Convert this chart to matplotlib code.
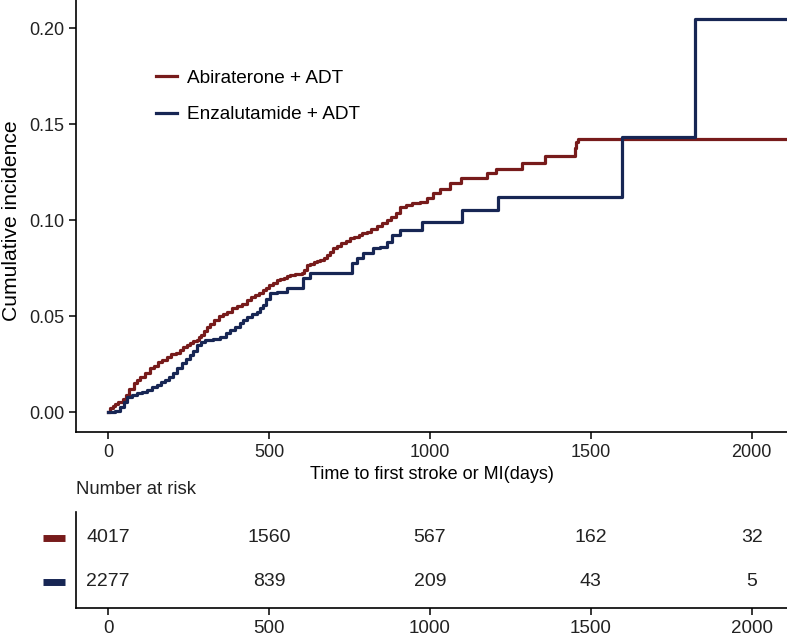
import numpy as np
import matplotlib.pyplot as plt
import matplotlib.transforms as mtransforms

plt.rcParams['font.family'] = ['Liberation Sans', 'DejaVu Sans']

# courbes d'incidence cumulée (points de saut)
t_abi = [0, 6, 14, 22, 30, 37, 46, 55, 66, 79, 90, 100, 115, 130, 142, 155, 168, 182,
         196, 210, 222, 234, 245, 255, 265, 275, 283, 290, 298, 306, 318, 330, 345,
         357, 369, 385, 400, 415, 431, 443, 455, 468, 482, 491, 500, 512, 524, 535,
         545, 555, 565, 580, 601, 610, 617, 628, 640, 650, 658, 670, 680, 690, 700,
         712, 725, 738, 752, 765, 780, 790, 803, 818, 835, 850, 866, 880, 896, 907,
         925, 943, 969, 990, 1010, 1031, 1062, 1098, 1176, 1207, 1285, 1357, 1450,
         1455, 1461, 2110]
v_abi = [0, 0.002, 0.003, 0.004, 0.005, 0.0054, 0.007, 0.009, 0.012, 0.0149, 0.0165,
         0.018, 0.0205, 0.0228, 0.024, 0.026, 0.0272, 0.0288, 0.030, 0.031, 0.0325,
         0.034, 0.035, 0.036, 0.0368, 0.0375, 0.039, 0.040, 0.042, 0.0444, 0.046,
         0.048, 0.050, 0.051, 0.0522, 0.054, 0.055, 0.0565, 0.0583, 0.060, 0.061,
         0.0622, 0.0635, 0.0645, 0.066, 0.0672, 0.0688, 0.0695, 0.070, 0.0708,
         0.0714, 0.0718, 0.0722, 0.074, 0.0766, 0.0772, 0.078, 0.0786, 0.0792,
         0.080, 0.082, 0.0836, 0.0852, 0.0866, 0.088, 0.089, 0.0904, 0.0912, 0.092,
         0.093, 0.0939, 0.0952, 0.097, 0.0985, 0.100, 0.1015, 0.1035, 0.107, 0.1078,
         0.1087, 0.1095, 0.1113, 0.1142, 0.116, 0.1194, 0.1217, 0.1243, 0.1264,
         0.1295, 0.1333, 0.1373, 0.1408, 0.1422, 0.1422]

t_enz = [0, 22, 37, 48, 58, 75, 89, 105, 120, 135, 151, 165, 177, 190, 203, 215, 229,
         242, 255, 265, 275, 288, 301, 325, 348, 365, 379, 395, 410, 420, 431, 448,
         462, 472, 482, 492, 503, 524, 555, 607, 627, 757, 772, 793, 824, 845, 866,
         881, 907, 977, 1101, 1212, 1598, 1823, 2110]
v_enz = [0, 0.0007, 0.0028, 0.005, 0.008, 0.009, 0.0097, 0.0105, 0.0115, 0.013,
         0.014, 0.0155, 0.0167, 0.018, 0.0201, 0.023, 0.0253, 0.0275, 0.0297, 0.032,
         0.0349, 0.0365, 0.0375, 0.0382, 0.0392, 0.041, 0.0427, 0.0445, 0.0462,
         0.048, 0.0496, 0.051, 0.0522, 0.054, 0.0557, 0.059, 0.0618, 0.0627, 0.0644,
         0.0696, 0.0722, 0.0774, 0.080, 0.0826, 0.0852, 0.086, 0.0887, 0.0922,
         0.0948, 0.0991, 0.1052, 0.1122, 0.143, 0.2045, 0.2045]

groupes = ["Abiraterone + ADT", "Enzalutamide + ADT"]
couleurs = ["#771b1b", "#172654"]

# table des effectifs à risque
t_risk = [0, 500, 1000, 1500, 2000]
n_abi = [4017, 1560, 567, 162, 32]
n_enz = [2277, 839, 209, 43, 5]

fig = plt.figure(figsize=(7.87, 6.37), dpi=100)
ax = fig.add_axes([76/787, 1 - 432/637, 1 - 76/787, 432/637])

ax.step(t_abi, v_abi, where='post', color=couleurs[0], lw=2.3, label=groupes[0])
ax.step(t_enz, v_enz, where='post', color=couleurs[1], lw=2.3, label=groupes[1])

ax.set_xlim(-100, 2110)
ax.set_ylim(-0.0104, 0.2146)
ax.set_xticks(t_risk)
ax.set_yticks([0, 0.05, 0.10, 0.15, 0.20])
ax.set_yticklabels(["0.00", "0.05", "0.10", "0.15", "0.20"])
ax.tick_params(labelsize=13, length=5, width=1.1, color='black', labelcolor='#222222')
for s in ['top', 'right']:
    ax.spines[s].set_visible(False)
for s in ['left', 'bottom']:
    ax.spines[s].set_linewidth(1.2)
ax.set_ylabel("Cumulative incidence", fontsize=15.2, va='center')
ax.yaxis.set_label_coords(-64/711, 0.49)
ax.set_xlabel("Time to first stroke or MI(days)", fontsize=13, labelpad=4)

ax.legend(loc='upper left', bbox_to_anchor=(146/787, 1 - 60/637),
          bbox_transform=fig.transFigure, frameon=False, fontsize=13.7,
          handlelength=1.15, handletextpad=0.5, labelspacing=1.0, borderpad=0)

# table des effectifs
axt = fig.add_axes([76/787, 1 - 608/637, 1 - 76/787, 96/637])
axt.set_xlim(-100, 2110)
axt.set_ylim(0.41, 2.58)
for i, n in enumerate(n_abi):
    axt.text(t_risk[i], 2, str(n), ha='center', va='center', fontsize=14, color='#222222')
for i, n in enumerate(n_enz):
    axt.text(t_risk[i], 1, str(n), ha='center', va='center', fontsize=14, color='#222222')
trans = mtransforms.blended_transform_factory(axt.transAxes, axt.transData)
axt.plot([-0.046, -0.0155], [2, 2], transform=trans, color=couleurs[0], lw=5,
         solid_capstyle='butt', clip_on=False)
axt.plot([-0.046, -0.0155], [1, 1], transform=trans, color=couleurs[1], lw=5,
         solid_capstyle='butt', clip_on=False)
axt.set_xticks(t_risk)
axt.set_yticks([])
axt.tick_params(labelsize=13.5, length=5, width=1.1, labelcolor='#222222')
for s in ['top', 'right']:
    axt.spines[s].set_visible(False)
for s in ['left', 'bottom']:
    axt.spines[s].set_linewidth(1.2)
fig.text(76/787, 1 - 490/637, "Number at risk", fontsize=13.3, ha='left', va='center',
         color='#222222')

fig.savefig("out.png", dpi=100)
